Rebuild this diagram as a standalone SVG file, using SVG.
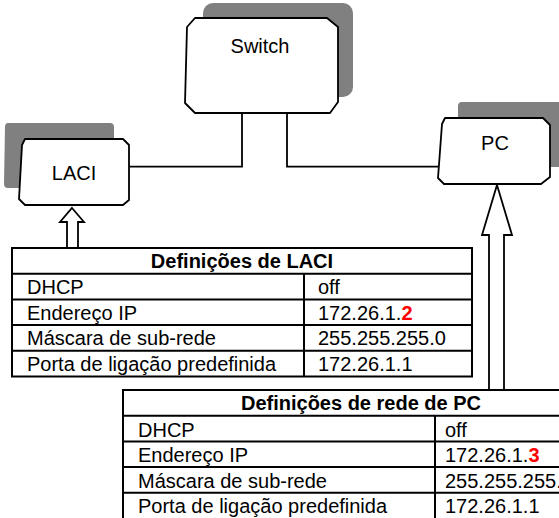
<svg xmlns="http://www.w3.org/2000/svg" width="559" height="518" viewBox="0 0 559 518">
<style>
.shadow{fill:#808080;stroke:none}
.box{fill:#ffffff;stroke:#000000;stroke-width:1.8;stroke-linejoin:round}
.lbl{font-family:"Liberation Sans",Arial,sans-serif;font-size:20px;fill:#000000}
.conn{fill:none;stroke:#000000;stroke-width:1.8}
.arrow{fill:#ffffff;stroke:#000000;stroke-width:1.8;stroke-linejoin:miter}
.grid{fill:none;stroke:#000000;stroke-width:2}
.t{font-family:"Liberation Sans",Arial,sans-serif;font-size:20px;fill:#000000}
.h{font-family:"Liberation Sans",Arial,sans-serif;font-size:20px;font-weight:bold;fill:#000000}
.red{fill:#ff0000;font-weight:bold}
</style>
<rect width="559" height="518" fill="#ffffff"/>
<g id="connectors">
<path class="conn" d="M242,113 V166.7 H129"/>
<path class="conn" d="M287,113 V166.7 H439"/>
<path class="arrow" d="M72,208 L84,222 L78,222 L78,248 L67,248 L67,222 L60,222 Z"/>
<path class="arrow" d="M497,185 L512,235 L504,235 L504,390 L489,390 L489,235 L482,235 Z"/>
</g>
<g id="switch">
<rect class="shadow" x="203" y="3" width="150" height="94" rx="10"/>
<path class="box" d="M195,18 L327,18 L338,27 L338,102 L330,113 L195,113 L185,103 L187,27 Z"/>
<text class="lbl" x="260" y="53" text-anchor="middle">Switch</text>
</g>
<g id="laci">
<path class="shadow" d="M8,123 L110,123 Q114,123 114,127 L114,188 L8,188 Q4,188 4,184 L5,127 Q5,123 8,123 Z"/>
<path class="box" d="M25,139 L123,139 L129,145 L129,200 L123,205 L25,205 L19,199 L22,145 Z"/>
<text class="lbl" x="74" y="180" text-anchor="middle">LACI</text>
</g>
<g id="pc">
<path class="shadow" d="M462,102 L559,102 L559,167 L458,167 L458,106 Q458,102 462,102 Z"/>
<path class="box" d="M445,118 L543,118 L550,125 L550,177 L541,184 L444,184 L438,178 L442,124 Z"/>
<text class="lbl" x="495" y="150" text-anchor="middle">PC</text>
</g>
<g id="laci-table">
<rect x="0" y="0" width="0" height="0" fill="none"/>
<rect class="grid" x="12" y="248" width="460" height="128.5" fill="#ffffff"/>
<path class="grid" d="M12,273.7 H472 M12,299.4 H472 M12,325.1 H472 M12,350.8 H472 M304,273.7 V376.5"/>
<text class="h" x="242" y="268" text-anchor="middle">Definições de LACI</text>
<text class="t" x="27" y="294">DHCP</text>
<text class="t" x="27" y="319.5">Endereço IP</text>
<text class="t" x="27" y="345.2">Máscara de sub-rede</text>
<text class="t" x="27" y="370.9">Porta de ligação predefinida</text>
<text class="t" x="318" y="294">off</text>
<text class="t" x="318" y="319.5">172.26.1.<tspan class="red">2</tspan></text>
<text class="t" x="318" y="345.2">255.255.255.0</text>
<text class="t" x="318" y="370.9">172.26.1.1</text>
</g>
<g id="pc-table">
<rect class="grid" x="123" y="390" width="480" height="130" fill="#ffffff"/>
<path class="grid" d="M123,415.7 H603 M123,441.4 H603 M123,467.1 H603 M123,492.8 H603 M435,415.7 V518"/>
<text class="h" x="361" y="410" text-anchor="middle">Definições de rede de PC</text>
<text class="t" x="138" y="436.5">DHCP</text>
<text class="t" x="138" y="462">Endereço IP</text>
<text class="t" x="138" y="487.7">Máscara de sub-rede</text>
<text class="t" x="138" y="513.4">Porta de ligação predefinida</text>
<text class="t" x="445" y="436.5">off</text>
<text class="t" x="445" y="462">172.26.1.<tspan class="red">3</tspan></text>
<text class="t" x="445" y="487.7">255.255.255.0</text>
<text class="t" x="445" y="513.4">172.26.1.1</text>
</g>
</svg>
